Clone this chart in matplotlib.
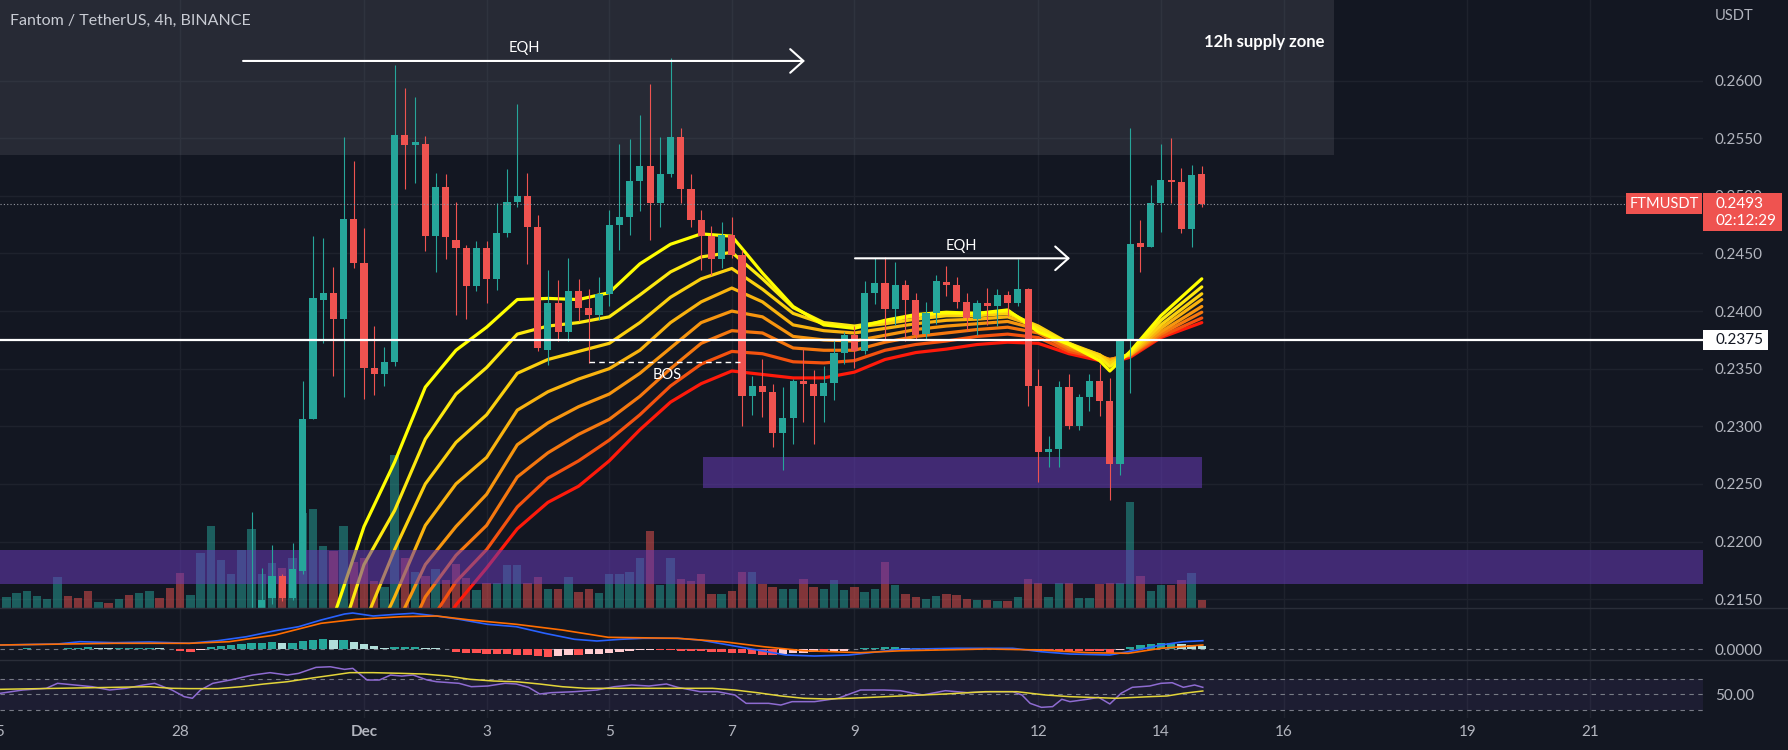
import matplotlib
matplotlib.use("Agg")
import matplotlib.pyplot as plt
import matplotlib.transforms as mtransforms
from matplotlib.patches import Rectangle
from matplotlib.lines import Line2D
from matplotlib.colors import to_rgba
import numpy as np

plt.rcParams['font.family'] = ['Lato', 'DejaVu Sans']

BG = '#131722'
GRID = '#1e222d'
TXT = '#b2b5be'
UP = '#26a69a'
DOWN = '#ef5350'

# FTMUSDT 4h candles, bar 0 = 30 Nov 00:00, one bar = 4 hours
first_bar = -30
opens = [.2060, .2052, .2061, .2070, .2079, .2084, .2088, .2104, .2092, .2085,
         .2071, .2077, .2073, .2082, .2074, .2086, .2096, .2088, .2076, .2058,
         .2066, .2094, .2122, .2128, .2131, .2132, .2136, .2151, .2170, .2151,
         .2174, .2306, .2410, .2416, .2393, .2480, .2442, .2351, .2345, .2356,
         .2553, .2544, .2545, .2465, .2508, .2462, .2455, .2422, .2455, .2428,
         .2468, .2495, .2500, .2473, .2366, .2407, .2382, .2417, .2403, .2397,
         .2415, .2475, .2482, .2513, .2526, .2494, .2519, .2551, .2506, .2479,
         .2465, .2445, .2466, .2449, .2326, .2335, .2330, .2294, .2307, .2339,
         .2337, .2326, .2338, .2364, .2379, .2365, .2416, .2424, .2402, .2423,
         .2410, .2380, .2398, .2425, .2423, .2408, .2393, .2407, .2404, .2414,
         .2407, .2419, .2335, .2278, .2280, .2334, .2300, .2325, .2339, .2322,
         .2267, .2375, .2459, .2456, .2494, .2514, .2512, .2471, .2519]
highs = [.2072, .2066, .2078, .2085, .2090, .2094, .2112, .2108, .2098, .2090,
         .2082, .2080, .2086, .2085, .2090, .2101, .2099, .2092, .2080, .2070,
         .2100, .2130, .2136, .2137, .2138, .2226, .2177, .2197, .2172, .2199,
         .2339, .2465, .2463, .2438, .2551, .2530, .2472, .2387, .2369, .2614,
         .2594, .2586, .2552, .2520, .2519, .2495, .2457, .2461, .2461, .2494,
         .2523, .2580, .2520, .2483, .2436, .2427, .2446, .2428, .2419, .2430,
         .2488, .2545, .2549, .2570, .2597, .2551, .2620, .2559, .2519, .2488,
         .2474, .2477, .2482, .2453, .2344, .2358, .2337, .2334, .2341, .2367,
         .2349, .2352, .2375, .2382, .2387, .2426, .2446, .2447, .2443, .2427,
         .2416, .2408, .2431, .2439, .2430, .2416, .2410, .2420, .2419, .2417,
         .2445, .2420, .2350, .2292, .2339, .2345, .2328, .2345, .2354, .2342,
         .2376, .2559, .2479, .2509, .2545, .2550, .2524, .2527, .2526]
lows = [.2048, .2045, .2055, .2062, .2071, .2078, .2082, .2088, .2080, .2066,
        .2066, .2068, .2070, .2070, .2072, .2080, .2084, .2070, .2050, .2052,
        .2062, .2090, .2110, .2118, .2120, .2128, .2130, .2146, .2148, .2149,
        .2172, .2306, .2372, .2344, .2325, .2437, .2324, .2327, .2335, .2352,
        .2506, .2511, .2452, .2434, .2445, .2397, .2393, .2417, .2407, .2418,
        .2464, .2490, .2441, .2365, .2353, .2374, .2374, .2391, .2355, .2392,
        .2404, .2453, .2466, .2487, .2462, .2473, .2516, .2494, .2473, .2436,
        .2431, .2437, .2446, .2300, .2310, .2308, .2282, .2262, .2285, .2304,
        .2285, .2304, .2323, .2354, .2351, .2363, .2406, .2374, .2388, .2374,
        .2376, .2375, .2389, .2413, .2403, .2383, .2379, .2388, .2387, .2396,
        .2404, .2318, .2252, .2265, .2265, .2298, .2297, .2313, .2309, .2236,
        .2258, .2329, .2434, .2456, .2469, .2494, .2468, .2456, .2490]
closes = [.2052, .2061, .2070, .2079, .2084, .2088, .2104, .2092, .2085, .2071,
          .2077, .2073, .2082, .2074, .2086, .2096, .2088, .2076, .2058, .2066,
          .2094, .2122, .2128, .2131, .2135, .2138, .2149, .2170, .2151, .2176,
          .2306, .2411, .2416, .2393, .2480, .2442, .2351, .2345, .2356, .2553,
          .2544, .2547, .2465, .2508, .2464, .2455, .2422, .2455, .2428, .2468,
          .2495, .2500, .2473, .2368, .2407, .2382, .2417, .2403, .2397, .2415,
          .2475, .2482, .2513, .2526, .2494, .2519, .2551, .2506, .2479, .2465,
          .2445, .2466, .2449, .2326, .2335, .2330, .2294, .2307, .2339, .2337,
          .2326, .2338, .2364, .2379, .2365, .2416, .2424, .2402, .2423, .2410,
          .2379, .2398, .2426, .2423, .2408, .2394, .2407, .2404, .2414, .2407,
          .2419, .2335, .2278, .2280, .2334, .2300, .2325, .2339, .2322, .2267,
          .2375, .2458, .2456, .2494, .2514, .2512, .2471, .2518, .2493]
volume = [14, 11, 15, 17, 12, 9, 31, 12, 10, 17,
          6, 5, 9, 13, 15, 17, 10, 20, 35, 13,
          55, 82, 48, 34, 58, 79, 34, 45, 40, 50,
          95, 99, 62, 57, 82, 46, 50, 27, 21, 153,
          50, 36, 32, 39, 28, 44, 30, 18, 25, 25,
          43, 43, 25, 31, 19, 19, 31, 16, 19, 15,
          34, 34, 36, 50, 77, 23, 50, 29, 27, 34,
          14, 14, 17, 36, 36, 24, 21, 19, 19, 29,
          21, 19, 28, 18, 21, 16, 19, 46, 23, 14,
          11, 9, 12, 14, 13, 9, 8, 8, 7, 7,
          11, 29, 25, 11, 25, 25, 10, 10, 24, 25,
          25, 106, 32, 17, 23, 23, 28, 35, 8]

# EMA ribbon (8 lines, fast yellow -> slow red), read at these bars
ribbon_x = [0, 3, 6, 9, 12, 15, 18, 21, 24, 27, 30, 33, 36, 39, 42, 45,
            48, 51, 54, 57, 60, 63, 66, 69, 72, 75, 78, 79, 81, 84, 88]
ema1 = [.2053, .2134, .2213, .2269, .2334, .2366, .2386, .2410, .2411, .2410, .2416, .2441, .2458, .2467, .2465, .2433,
        .2404, .2388, .2385, .2392, .2397, .2399, .2398, .2401, .2382, .2371, .2357, .2348, .2365, .2396, .2428]
ema2 = [.2035, .2098, .2180, .2227, .2289, .2328, .2351, .2380, .2387, .2390, .2395, .2414, .2434, .2447, .2451, .2428,
        .2403, .2390, .2387, .2391, .2396, .2398, .2398, .2400, .2385, .2372, .2360, .2352, .2364, .2392, .2421]
ema3 = [.2020, .2068, .2128, .2193, .2250, .2286, .2310, .2346, .2358, .2365, .2372, .2390, .2412, .2428, .2437, .2419,
        .2398, .2389, .2386, .2389, .2393, .2396, .2396, .2398, .2387, .2372, .2362, .2355, .2363, .2388, .2415]
ema4 = [.2008, .2045, .2095, .2152, .2214, .2250, .2273, .2314, .2330, .2341, .2350, .2366, .2390, .2408, .2420, .2408,
        .2388, .2383, .2381, .2385, .2389, .2392, .2393, .2395, .2386, .2371, .2362, .2357, .2362, .2385, .2410]
ema5 = [.1998, .2027, .2070, .2124, .2180, .2213, .2241, .2284, .2303, .2317, .2328, .2346, .2368, .2390, .2400, .2395,
        .2378, .2375, .2374, .2379, .2384, .2387, .2389, .2391, .2384, .2369, .2361, .2358, .2362, .2382, .2404]
ema6 = [.1990, .2012, .2050, .2094, .2152, .2188, .2214, .2256, .2277, .2293, .2306, .2326, .2350, .2372, .2383, .2381,
        .2368, .2366, .2366, .2373, .2378, .2381, .2384, .2386, .2381, .2367, .2360, .2358, .2362, .2380, .2399]
ema7 = [.1983, .2000, .2035, .2070, .2124, .2165, .2193, .2230, .2255, .2270, .2288, .2310, .2335, .2354, .2365, .2363,
        .2356, .2355, .2357, .2366, .2371, .2374, .2378, .2380, .2377, .2365, .2359, .2357, .2361, .2378, .2394]
ema8 = [.1978, .1992, .2022, .2050, .2100, .2145, .2177, .2211, .2234, .2248, .2270, .2297, .2321, .2337, .2348, .2345,
        .2342, .2342, .2347, .2358, .2364, .2367, .2371, .2373, .2372, .2363, .2357, .2355, .2360, .2377, .2390]
ribbon = [ema1, ema2, ema3, ema4, ema5, ema6, ema7, ema8]
ribbon_colors = ['#ffff00', '#fde910', '#fbd00f', '#f9b30f', '#f7950f', '#f5770f', '#f4520f', '#ff1a0a']

# MACD pane, values in units of 1e-4
macd_hist = [0.7, 0.7, 0.7, 1.0, 0.7, 0.7, 0.7, 1.0, 1.3, 2.7,
             1.3, 1.0, 1.3, 1.5, 1.7, 1.7, 1.3, 0.5, -2.0, -3.0,
             -1.0, 2.7, 3.7, 4.3, 5.0, 6.0, 6.7, 7.0, 6.7, 6.7,
             8.3, 9.3, 10.3, 9.3, 9.3, 7.7, 5.3, 3.3, 1.3, 2.7,
             2.7, 2.7, 1.7, 1.0, 0.3, -2.3, -3.3, -4.0, -4.7, -4.7,
             -4.7, -5.7, -5.7, -6.7, -7.3, -6.7, -5.7, -5.7, -5.0, -4.7,
             -4.0, -2.3, -1.3, -0.7, -0.3, -0.3, -0.7, -1.3, -1.3, -1.7,
             -2.3, -2.3, -3.3, -4.0, -4.7, -5.3, -5.7, -4.7, -4.0, -3.3,
             -2.7, -2.7, -2.0, -1.3, 0.0, 1.0, 1.7, 2.0, 2.7, 1.7,
             1.7, 1.7, 1.3, 1.0, 1.0, 1.0, 1.0, 0.7, 0.7, 0.7,
             0.3, -0.7, -1.7, -2.0, -2.0, -2.0, -2.0, -2.0, -2.0, -3.3,
             -1.0, 2.7, 4.3, 5.3, 6.0, 6.7, 5.0, 4.3, 3.7]
macd_x = [-29.6, -24, -21.8, -18.4, -15, -11.1, -8.3, -5.5, -2.7, -0.4, 1.8, 4.1, 4.9, 6.9,
          8.6, 10.8, 13.1, 15.3, 18.1, 20.9, 23.7, 26.6, 28.8, 31.1, 33.3, 36.7, 38.9, 41.7,
          44.5, 47.3, 50.1, 53.5, 58.5, 64, 69.5, 72.3, 75.1, 79, 81.7, 84, 86.2, 88.1]
macd_line = [4.3, 5.3, 7.6, 6.6, 7.3, 6.0, 8.6, 12.6, 18.6, 22.6, 29.3, 35.3, 36.3, 33.3,
             34.6, 36.0, 33.3, 30.0, 25.0, 22.6, 16.0, 10.0, 8.3, 10.0, 11.0, 11.0, 9.3, 4.3,
             -0.7, -5.7, -6.7, -5.7, 0.0, 1.0, 1.0, -2.4, -4.7, -5.7, -0.7, 4.3, 7.6, 8.6]
signal_x = [-29.6, -18.4, -11.1, -7.2, -2.7, 1.8, 5.2, 9.7, 13.1, 16.4, 20.9, 25.4, 29.9,
            36.7, 41.2, 45.1, 49, 54.6, 58.5, 67, 72.3, 76.9, 80.8, 84, 88.1]
signal_line = [4.3, 6.0, 6.0, 7.6, 14.3, 26.0, 30.0, 32.6, 33.3, 29.3, 25.0, 19.3, 12.0,
               11.0, 7.6, 2.6, -1.4, -3.4, -1.5, 0.3, -0.7, -3.4, -4.0, 1.0, 4.3]

# RSI pane
rsi_x = [-29.6, -27.4, -25.1, -24, -22.3, -20.6, -18.9, -17.3, -15.6, -14.5, -12.8, -11.6,
         -10.8, -10, -8.8, -7.1, -4.9, -3.2, -1.5, -0.4, 1.3, 2.7, 4.1, 4.9, 6.3, 7.5, 8.6,
         9.7, 10.8, 12.2, 13.1, 15.3, 16.5, 18.1, 19.8, 20.9, 22.1, 23.2, 24.3, 26.6, 28.8,
         30.5, 32.2, 33.9, 35.6, 36.7, 38.9, 40.6, 42.3, 43.4, 45.6, 46.8, 47.9, 50.1, 52.4,
         54.6, 56.9, 58.5, 60.7, 62.9, 65.1, 67.3, 69.5, 70.4, 71.2, 72.3, 73.4, 74.3, 75.1,
         76.8, 77.9, 79, 80.1, 81.2, 82.9, 84, 85.1, 86.2, 87.3, 88.1]
rsi = [51.3, 55.6, 57.8, 64.3, 62.1, 59.9, 55.6, 57.8, 62.1, 64.3, 55.6, 46.9,
       44.8, 55.6, 64.3, 68.6, 75.1, 78.2, 75.1, 77.3, 85.1, 85.9, 82.5, 83.8, 68.6, 68.6, 75.1,
       73.8, 75.1, 68.6, 66.4, 64.3, 59.9, 60.8, 64.3, 63.4, 59.1, 50.4, 52.1, 53.4, 55.6,
       59.9, 62.1, 60.8, 63.4, 59.1, 53.4, 53.4, 49.1, 38.2, 38.2, 36.0, 40.4, 40.4, 44.8,
       55.6, 55.6, 54.7, 49.1, 54.7, 52.1, 53.4, 53.4, 49.1, 38.2, 33.0, 33.9, 43.5, 40.4,
       43.5, 46.1, 37.4, 51.3, 59.1, 60.8, 64.3, 65.1, 59.1, 62.1, 59.1]
rsi_ma_x = [-29.6, -24, -18.4, -15, -12.8, -11.1, -8.3, -6, -3.8, -1.5, 0.7, 3, 4.6, 6.9, 9.7,
            11.9, 14.2, 16.4, 18.7, 20.9, 23.2, 25.4, 27.7, 32.2, 36.7, 40.1, 42.3, 44.5, 46.8,
            49, 51.3, 53.5, 55.8, 58.5, 62.9, 66.8, 69.9, 72.7, 75.1, 79.6, 82.9, 84.6, 86.2, 88.1]
rsi_ma = [56.5, 57.8, 59.1, 59.9, 57.8, 57.4, 57.4, 59.9, 63.4, 66.4, 70.8, 75.1, 78.2, 78.2, 77.3,
          76.4, 73.8, 69.5, 67.3, 66.4, 63.4, 59.9, 57.8, 57.8, 57.8, 57.8, 55.6, 52.1, 47.8,
          44.8, 43.9, 44.8, 46.1, 47.8, 50.4, 53.4, 53.4, 49.1, 46.9, 44.8, 46.9, 47.8, 51.3, 54.3]

price_ticks = [0.215, 0.220, 0.225, 0.230, 0.235, 0.240, 0.245, 0.250, 0.255, 0.260]
date_labels = ['25', '28', 'Dec', '3', '5', '7', '9', '12', '14', '16', '19', '21']
date_bars = [-30, -12, 6, 18, 30, 42, 54, 72, 84, 96, 114, 126]

last_price = 0.2493
key_level = 0.2375

# ---------------------------------------------------------------- layout
W, H = 1788, 750
fig = plt.figure(figsize=(W / 100, H / 100), dpi=100, facecolor=BG)


def pane(top, bottom):
    return [0, 1 - bottom / H, 1703 / W, (bottom - top) / H]


axv = fig.add_axes(pane(0, 608))
ax = fig.add_axes(pane(0, 608), sharex=axv)
axm = fig.add_axes(pane(608, 660), sharex=axv)
axr = fig.add_axes(pane(660, 718), sharex=axv)
ax.set_facecolor('none')
for a in (axv, axm, axr):
    a.set_facecolor(BG)
for a in (axv, ax, axm, axr):
    for s in a.spines.values():
        s.set_visible(False)
    a.tick_params(axis='x', length=0, labelbottom=False)

ax.set_xlim(-29.63, 137.06)
ax.set_ylim(0.21423, 0.26700)
axv.set_ylim(0, 608)
axm.set_ylim(-10.7, 41.3)
axr.set_ylim(19.1, 94.7)
ppx = (0.26700 - 0.21423) / 608  # price per pixel

# grid
for a in (axv, axm, axr):
    for t in date_bars:
        a.axvline(t, color=GRID, lw=1, zorder=0)
gtr = mtransforms.blended_transform_factory(axv.transAxes, ax.transData)
for p in price_ticks:
    axv.add_line(Line2D([0, 1], [p, p], transform=gtr, color=GRID, lw=1, zorder=0))

bars = np.arange(first_bar, first_bar + len(opens))
o, h, l, c = (np.array(v) for v in (opens, highs, lows, closes))
is_up = c >= o

# volume
vcols = [to_rgba(UP if u else DOWN, 0.5) for u in is_up]
axv.bar(bars, volume, width=0.82, color=vcols, linewidth=0, zorder=2)
axv.set_yticks([])

# supply zone and demand zones
ax.add_patch(Rectangle((-40, 0.25355), 100.94 + 40, 0.02,
                       fc=(120 / 255, 123 / 255, 134 / 255, 0.2), ec='none', zorder=1))
purple = (103 / 255, 58 / 255, 183 / 255, 0.55)
ax.add_patch(Rectangle((-40, 0.21629), 200, 0.21926 - 0.21629, fc=purple, ec='none', zorder=4))
ax.add_patch(Rectangle((39.14, 0.22462), 88.07 - 39.14, 0.22731 - 0.22462, fc=purple, ec='none', zorder=4))

# ribbon
for vals, col in list(zip(ribbon, ribbon_colors))[::-1]:
    ax.plot(ribbon_x, vals, color=col, lw=2.3, solid_joinstyle='round',
            solid_capstyle='round', zorder=3)

# candles
ccols = np.where(is_up, UP, DOWN)
ax.vlines(bars, l, h, colors=ccols, lw=0.8, zorder=5)
body = np.maximum(np.abs(c - o), 1.2 * ppx)
ax.bar(bars, body, bottom=np.minimum(o, c), width=0.7, color=ccols, linewidth=0, zorder=6)

# levels and drawings
ax.axhline(key_level, color='white', lw=1.6, zorder=7)
ax.axhline(last_price, color='#9598a1', lw=0.8, ls=(0, (1, 2)), zorder=7)
arrow = dict(arrowstyle='->,head_length=0.95,head_width=0.85', color='white', lw=1.5,
             shrinkA=0, shrinkB=0, mutation_scale=10)
ax.annotate('', xy=(49.16, 0.26171), xytext=(-5.84, 0.26171), arrowprops=arrow, zorder=8)
ax.text(21.7, 0.262847, 'EQH', color='white', fontsize=10.5, ha='center', va='center', zorder=8)
ax.annotate('', xy=(75.1, 0.24458), xytext=(54.06, 0.24458), arrowprops=arrow, zorder=8)
ax.text(64.5, 0.24565, 'EQH', color='white', fontsize=10.5, ha='center', va='center', zorder=8)
ax.hlines(0.23556, 28, 42.8, color='white', lw=1, ls=(0, (4, 3)), zorder=8)
ax.text(35.66, 0.23445, 'BOS', color='white', fontsize=10.5, ha='center', va='center', zorder=8)
ax.text(88.2, 0.263385, '12h supply zone', color='white', fontsize=12, fontweight='bold',
        ha='left', va='center', zorder=8)

# price scale
ax.yaxis.tick_right()
ax.set_yticks(price_ticks)
ax.set_yticklabels([f'{p:.4f}' for p in price_ticks])
ax.tick_params(axis='y', length=0, pad=8.6, labelsize=11, labelcolor=TXT)
fig.text(1715 / W, 1 - 16 / H, 'USDT', color=TXT, fontsize=10.5, ha='left', va='center')
fig.text(10 / W, 1 - 21 / H, 'Fantom / TetherUS, 4h, BINANCE', color='#c9ccd4',
         fontsize=11.5, ha='left', va='center')

tb = mtransforms.blended_transform_factory(fig.transFigure, ax.transData)
fig.add_artist(Rectangle((1703 / W, key_level - 10 * ppx), 65 / W, 20 * ppx,
                         transform=tb, fc='white', ec='none'))
fig.text(1715 / W, key_level, f'{key_level:.4f}', transform=tb, color=BG, fontsize=11,
         ha='left', va='center')
fig.add_artist(Rectangle((1626 / W, last_price - 10.5 * ppx), 76 / W, 21 * ppx,
                         transform=tb, fc=DOWN, ec='none'))
fig.text(1664 / W, last_price, 'FTMUSDT', transform=tb, color='white', fontsize=10.5,
         ha='center', va='center')
fig.add_artist(Rectangle((1703 / W, last_price - 27.5 * ppx), 79 / W, 38 * ppx,
                         transform=tb, fc=DOWN, ec='none'))
fig.text(1715 / W, last_price, f'{last_price:.4f}', transform=tb, color='white', fontsize=11,
         ha='left', va='center')
fig.text(1715 / W, last_price - 17.5 * ppx, '02:12:29', transform=tb, color='white',
         fontsize=11, ha='left', va='center')

# MACD
hcols = []
for k, v in enumerate(macd_hist):
    prev = macd_hist[k - 1] if k else v
    if v >= 0:
        hcols.append('#26a69a' if v >= prev else '#b2dfdb')
    else:
        hcols.append('#ffcdd2' if v > prev else '#ff5252')
axm.axhline(0, color='#787b86', lw=0.8, ls=(0, (4, 4)), zorder=1)
axm.bar(bars, macd_hist, width=0.82, color=hcols, linewidth=0, zorder=2)
axm.plot(macd_x, macd_line, color='#2962ff', lw=1.2, zorder=3)
axm.plot(signal_x, signal_line, color='#ff6d00', lw=1.2, zorder=3)
axm.yaxis.tick_right()
axm.set_yticks([0])
axm.set_yticklabels(['0.0000'])
axm.tick_params(axis='y', length=0, pad=8.6, labelsize=11, labelcolor=TXT)

# RSI
axr.axhspan(30, 70, color='#7e57c2', alpha=0.1, lw=0, zorder=1)
for lvl in (70, 50, 30):
    axr.axhline(lvl, color='#787b86', lw=0.8, ls=(0, (4, 4)), zorder=2)
axr.plot(rsi_x, rsi, color='#8e6bd1', lw=1.1, zorder=3)
axr.plot(rsi_ma_x, rsi_ma, color='#e3d53a', lw=1.1, zorder=3)
axr.yaxis.tick_right()
axr.set_yticks([50])
axr.set_yticklabels(['50.00'])
axr.tick_params(axis='y', length=0, pad=8.6, labelsize=11, labelcolor=TXT)

# time scale
axr.set_xticks(date_bars[1:])
axr.set_xticklabels(date_labels[1:])
axr.tick_params(axis='x', labelbottom=True, length=0, pad=5, labelsize=11, labelcolor=TXT)
for lab in axr.get_xticklabels():
    if lab.get_text() == 'Dec':
        lab.set_fontweight('bold')
axr.annotate(date_labels[0], xy=(date_bars[0], 0), xycoords=axr.get_xaxis_transform(),
             xytext=(0, -5), textcoords='offset points', ha='center', va='top',
             fontsize=11, color=TXT, annotation_clip=False)

# pane separators
for ypx in (608, 660):
    fig.add_artist(Line2D([0, 1], [1 - ypx / H] * 2, transform=fig.transFigure,
                          color='#2a2e39', lw=1))

fig.savefig('out.png', dpi=100, facecolor=BG)
